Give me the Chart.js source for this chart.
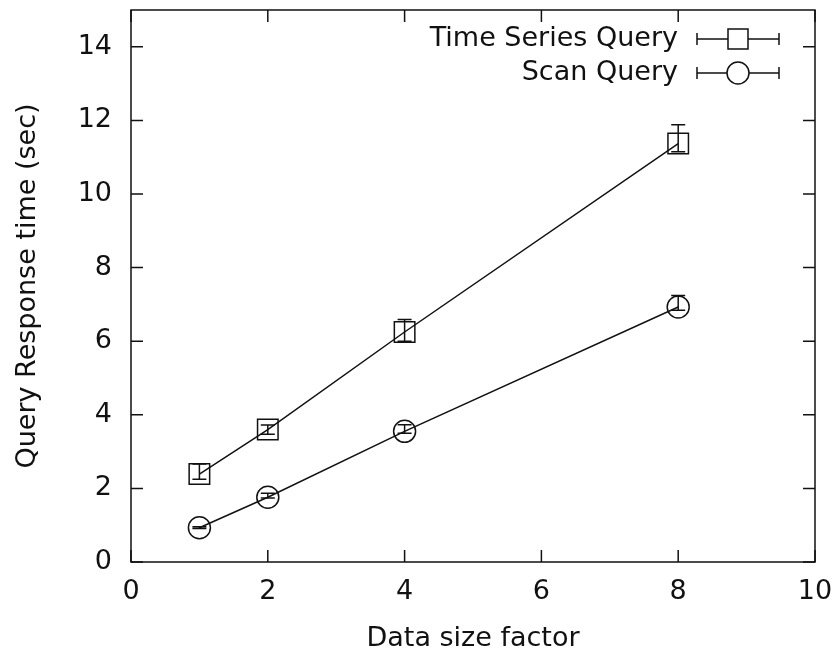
<!DOCTYPE html>
<html>
<head>
    <title>Query Response time vs Data size factor</title>
    <script src="https://cdn.jsdelivr.net/npm/chart.js@4"></script>
    <style>
        html, body { margin: 0; padding: 0; background: #fff; }
        #chart-container { width: 839px; height: 656px; }
    </style>
</head>
<body>
    <div id="chart-container">
        <canvas id="chart"></canvas>
    </div>

    <script>
        // data
        const sizeFactors = [1, 2, 4, 8];
        const seriesNames = ['Time Series Query', 'Scan Query'];

        const timeSeriesMean = [2.39, 3.60, 6.25, 11.37];
        const timeSeriesLow = [2.25, 3.47, 6.00, 11.15];
        const timeSeriesHigh = [2.66, 3.72, 6.59, 11.88];

        const scanMean = [0.93, 1.76, 3.55, 6.93];
        const scanLow = [0.91, 1.74, 3.50, 6.84];
        const scanHigh = [0.96, 1.87, 3.73, 7.24];

        const xTicks = [0, 2, 4, 6, 8, 10];
        const yTicks = [0, 2, 4, 6, 8, 10, 12, 14];

        const FONT = '"DejaVu Sans", sans-serif';
        const FONT_SIZE = 27;
        const INK = '#111';

        const errLow = [timeSeriesLow, scanLow];
        const errHigh = [timeSeriesHigh, scanHigh];

        // frame with inward ticks on all four sides (gnuplot style)
        const framePlugin = {
            id: 'frame',
            afterDraw(chart) {
                const ctx = chart.ctx;
                const a = chart.chartArea;
                const xs = chart.scales.x, ys = chart.scales.y;
                const len = 12;
                ctx.save();
                ctx.strokeStyle = INK;
                ctx.lineWidth = 1.5;
                ctx.strokeRect(a.left, a.top, a.right - a.left, a.bottom - a.top);
                ctx.beginPath();
                xTicks.forEach(v => {
                    const px = xs.getPixelForValue(v);
                    ctx.moveTo(px, a.bottom); ctx.lineTo(px, a.bottom - len);
                    ctx.moveTo(px, a.top); ctx.lineTo(px, a.top + len);
                });
                yTicks.forEach(v => {
                    const py = ys.getPixelForValue(v);
                    ctx.moveTo(a.left, py); ctx.lineTo(a.left + len, py);
                    ctx.moveTo(a.right, py); ctx.lineTo(a.right - len, py);
                });
                ctx.stroke();
                ctx.restore();
            }
        };

        // vertical error bars with caps
        const errorBarPlugin = {
            id: 'errorBars',
            afterDatasetsDraw(chart) {
                const ctx = chart.ctx;
                const xs = chart.scales.x, ys = chart.scales.y;
                const cap = 7;
                ctx.save();
                ctx.strokeStyle = INK;
                ctx.lineWidth = 1.5;
                errLow.forEach((lows, s) => {
                    const highs = errHigh[s];
                    sizeFactors.forEach((x, i) => {
                        const px = xs.getPixelForValue(x);
                        const pl = ys.getPixelForValue(lows[i]);
                        const ph = ys.getPixelForValue(highs[i]);
                        ctx.beginPath();
                        ctx.moveTo(px, pl); ctx.lineTo(px, ph);
                        ctx.moveTo(px - cap, pl); ctx.lineTo(px + cap, pl);
                        ctx.moveTo(px - cap, ph); ctx.lineTo(px + cap, ph);
                        ctx.stroke();
                    });
                });
                ctx.restore();
            }
        };

        // key in the top right: text, then a sample with error bar and marker
        const keyPlugin = {
            id: 'key',
            afterDraw(chart) {
                const ctx = chart.ctx;
                const textRight = 678;
                const lineL = 697, lineR = 779, mid = 738;
                const rows = [39, 73];
                ctx.save();
                ctx.font = FONT_SIZE + 'px ' + FONT;
                ctx.fillStyle = INK;
                ctx.strokeStyle = INK;
                ctx.lineWidth = 1.5;
                ctx.textAlign = 'right';
                ctx.textBaseline = 'middle';
                seriesNames.forEach((name, i) => {
                    const y = rows[i];
                    ctx.fillText(name, textRight, y);
                    ctx.beginPath();
                    ctx.moveTo(lineL, y); ctx.lineTo(lineR, y);
                    ctx.moveTo(lineL, y - 6); ctx.lineTo(lineL, y + 6);
                    ctx.moveTo(lineR, y - 6); ctx.lineTo(lineR, y + 6);
                    ctx.stroke();
                    ctx.beginPath();
                    if (i === 0) {
                        ctx.rect(mid - 10, y - 10, 20, 20);
                    } else {
                        ctx.arc(mid, y, 11, 0, Math.PI * 2);
                    }
                    ctx.fillStyle = '#fff';
                    ctx.fill();
                    ctx.fillStyle = INK;
                    ctx.stroke();
                });
                ctx.restore();
            }
        };

        const toPoints = ys => sizeFactors.map((x, i) => ({ x: x, y: ys[i] }));

        new Chart(document.getElementById('chart'), {
            type: 'line',
            data: {
                datasets: [{
                    label: seriesNames[0],
                    data: toPoints(timeSeriesMean),
                    borderColor: INK,
                    borderWidth: 1.5,
                    pointStyle: 'rect',
                    pointRadius: 14.5,
                    pointBorderWidth: 1.5,
                    pointBorderColor: INK,
                    pointBackgroundColor: 'rgba(0,0,0,0)',
                    tension: 0,
                    fill: false,
                }, {
                    label: seriesNames[1],
                    data: toPoints(scanMean),
                    borderColor: INK,
                    borderWidth: 1.5,
                    pointStyle: 'circle',
                    pointRadius: 11,
                    pointBorderWidth: 1.5,
                    pointBorderColor: INK,
                    pointBackgroundColor: 'rgba(0,0,0,0)',
                    tension: 0,
                    fill: false,
                }],
            },
            options: {
                responsive: true,
                maintainAspectRatio: false,
                animation: false,
                layout: { autoPadding: false, padding: { top: 10, right: 24, left: 0, bottom: 0 } },
                plugins: {
                    legend: { display: false },
                    tooltip: { enabled: false },
                },
                scales: {
                    x: {
                        type: 'linear',
                        min: 0, max: 10,
                        afterBuildTicks: s => { s.ticks = xTicks.map(v => ({ value: v })); },
                        afterFit: s => { s.height = 94; s.paddingLeft = 0; s.paddingRight = 0; },
                        grid: { display: false, drawTicks: false },
                        border: { display: false },
                        ticks: { color: INK, font: { family: FONT, size: FONT_SIZE }, padding: 14, maxRotation: 0 },
                        title: {
                            display: true, text: 'Data size factor', color: INK,
                            font: { family: FONT, size: FONT_SIZE }, padding: { top: 0, bottom: 1 },
                        },
                    },
                    y: {
                        type: 'linear',
                        min: 0, max: 15,
                        afterBuildTicks: s => { s.ticks = yTicks.map(v => ({ value: v })); },
                        afterFit: s => { s.width = 131; s.paddingTop = 0; s.paddingBottom = 0; },
                        grid: { display: false, drawTicks: false },
                        border: { display: false },
                        ticks: { color: INK, font: { family: FONT, size: FONT_SIZE }, padding: 19 },
                        title: {
                            display: true, text: 'Query Response time (sec)', color: INK,
                            font: { family: FONT, size: FONT_SIZE }, padding: { top: 12, bottom: 0 },
                        },
                    },
                },
            },
            plugins: [framePlugin, errorBarPlugin, keyPlugin],
        });
    </script>
</body>
</html>
